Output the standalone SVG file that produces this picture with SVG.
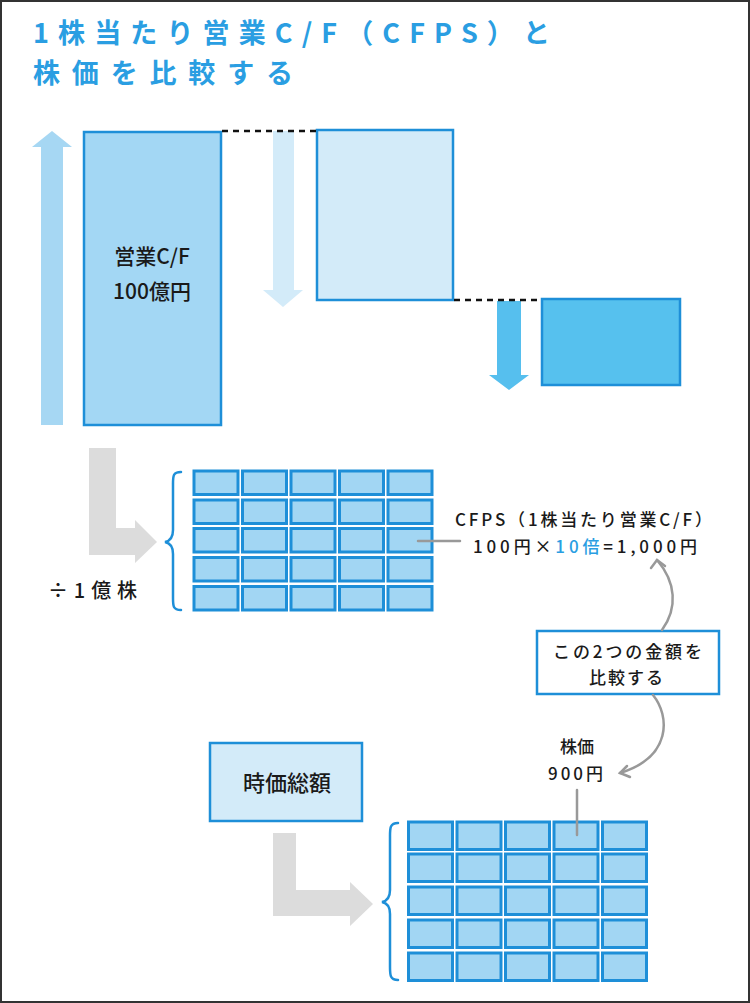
<svg xmlns="http://www.w3.org/2000/svg" width="750" height="1003" viewBox="0 0 750 1003">
<defs>
<style>
text{font-family:"Noto Sans CJK JP","Noto Sans",sans-serif;fill:#1a1a1a;font-weight:500;}
.title{fill:#2a9ee2;font-size:27px;font-weight:bold;}
.lbl{font-size:17px;}
.box{stroke:#1e8fd8;stroke-width:2.5;}
.cell{fill:#a2d6f3;stroke:#1e8fd8;stroke-width:3;}
.brace{fill:none;stroke:#1e8fd8;stroke-width:2.5;stroke-linecap:round;}
.dash{stroke:#111;stroke-width:2.5;stroke-dasharray:6 5;}
.gline{stroke:#999;stroke-width:2.5;fill:none;stroke-linecap:round;}
.lshape{fill:#dcdcdc;}
</style>
</defs>
<rect x="0" y="0" width="750" height="1003" fill="#fff"/>
<rect x="1" y="1" width="748" height="1001" fill="none" stroke="#333" stroke-width="2"/>

<g id="title">
<text class="title" x="33" y="43" textLength="517" lengthAdjust="spacing">1株当たり営業C/F（CFPS）と</text>
<text class="title" x="33" y="83" textLength="260" lengthAdjust="spacing">株価を比較する</text>
</g>

<g id="arrows-vertical">
<polygon points="52,131 72,147 63,147 63,425 41,425 41,147 32,147" fill="#a6d7f3"/>
<polygon points="273,131 294,131 294,290 303,290 283,307 263,290 273,290" fill="#d3ebf9"/>
<polygon points="497,301 521,301 521,375 529,375 509,390 489,375 497,375" fill="#56bfee"/>
</g>

<g id="node-cf">
<rect class="box" x="84" y="132" width="137" height="293" fill="#a3d7f4"/>
<text x="152" y="264" font-size="21" text-anchor="middle">営業C/F</text>
<text x="152" y="299" font-size="21" text-anchor="middle">100億円</text>
</g>

<g id="node-mid">
<rect class="box" x="317" y="130" width="136" height="170" fill="#d3ebf9"/>
</g>

<g id="node-small">
<rect class="box" x="542" y="299" width="138" height="86" fill="#56c1ee"/>
</g>

<g id="grid-top">
<path class="brace" d="M181,472 C173,472 173,476 173,484 L173,530 C173,538 170,541 165,542 C170,543 173,546 173,554 L173,598 C173,606 173,610 181,610"/>
<g>
<rect class="cell" x="194" y="471" width="44" height="23.5"/><rect class="cell" x="242.5" y="471" width="44" height="23.5"/><rect class="cell" x="291" y="471" width="44" height="23.5"/><rect class="cell" x="339.5" y="471" width="44" height="23.5"/><rect class="cell" x="388" y="471" width="44" height="23.5"/>
<rect class="cell" x="194" y="500" width="44" height="23.5"/><rect class="cell" x="242.5" y="500" width="44" height="23.5"/><rect class="cell" x="291" y="500" width="44" height="23.5"/><rect class="cell" x="339.5" y="500" width="44" height="23.5"/><rect class="cell" x="388" y="500" width="44" height="23.5"/>
<rect class="cell" x="194" y="528.5" width="44" height="23.5"/><rect class="cell" x="242.5" y="528.5" width="44" height="23.5"/><rect class="cell" x="291" y="528.5" width="44" height="23.5"/><rect class="cell" x="339.5" y="528.5" width="44" height="23.5"/><rect class="cell" x="388" y="528.5" width="44" height="23.5"/>
<rect class="cell" x="194" y="557.5" width="44" height="23.5"/><rect class="cell" x="242.5" y="557.5" width="44" height="23.5"/><rect class="cell" x="291" y="557.5" width="44" height="23.5"/><rect class="cell" x="339.5" y="557.5" width="44" height="23.5"/><rect class="cell" x="388" y="557.5" width="44" height="23.5"/>
<rect class="cell" x="194" y="586.5" width="44" height="23.5"/><rect class="cell" x="242.5" y="586.5" width="44" height="23.5"/><rect class="cell" x="291" y="586.5" width="44" height="23.5"/><rect class="cell" x="339.5" y="586.5" width="44" height="23.5"/><rect class="cell" x="388" y="586.5" width="44" height="23.5"/>
</g>
</g>

<g id="label-divide">
<text x="48" y="598" font-size="20" textLength="89" lengthAdjust="spacing">÷1億株</text>
</g>

<g id="label-cfps">
<text class="lbl" x="455" y="526" textLength="257" lengthAdjust="spacing">CFPS（1株当たり営業C/F）</text>
<text class="lbl" x="473" y="553" textLength="224" lengthAdjust="spacing">100円×<tspan fill="#2a9ee2">10倍</tspan>=1,000円</text>
</g>

<g id="node-compare">
<rect class="box" x="537" y="631" width="182" height="63" fill="#fff"/>
<text class="lbl" x="553" y="658" textLength="149" lengthAdjust="spacing">この2つの金額を</text>
<text class="lbl" x="589" y="684" textLength="74" lengthAdjust="spacing">比較する</text>
</g>

<g id="label-price">
<text class="lbl" x="577" y="753" text-anchor="middle">株価</text>
<text class="lbl" x="548" y="780" textLength="55" lengthAdjust="spacing">900円</text>
</g>

<g id="node-marketcap">
<rect class="box" x="210" y="743" width="152" height="78" fill="#d3ebf9"/>
<text x="287" y="791" font-size="22" font-weight="bold" text-anchor="middle">時価総額</text>
</g>

<g id="grid-bottom">
<path class="brace" d="M398,823 C390,823 390,828 390,836 L390,890 C390,898 387,901 382,902 C387,903 390,906 390,914 L390,967 C390,975 390,980 398,980"/>
<g>
<rect class="cell" x="408.5" y="822" width="44" height="27.5"/><rect class="cell" x="457" y="822" width="44" height="27.5"/><rect class="cell" x="505.5" y="822" width="44" height="27.5"/><rect class="cell" x="554" y="822" width="44" height="27.5"/><rect class="cell" x="602.5" y="822" width="44" height="27.5"/>
<rect class="cell" x="408.5" y="854" width="44" height="27.5"/><rect class="cell" x="457" y="854" width="44" height="27.5"/><rect class="cell" x="505.5" y="854" width="44" height="27.5"/><rect class="cell" x="554" y="854" width="44" height="27.5"/><rect class="cell" x="602.5" y="854" width="44" height="27.5"/>
<rect class="cell" x="408.5" y="887" width="44" height="27.5"/><rect class="cell" x="457" y="887" width="44" height="27.5"/><rect class="cell" x="505.5" y="887" width="44" height="27.5"/><rect class="cell" x="554" y="887" width="44" height="27.5"/><rect class="cell" x="602.5" y="887" width="44" height="27.5"/>
<rect class="cell" x="408.5" y="920" width="44" height="27.5"/><rect class="cell" x="457" y="920" width="44" height="27.5"/><rect class="cell" x="505.5" y="920" width="44" height="27.5"/><rect class="cell" x="554" y="920" width="44" height="27.5"/><rect class="cell" x="602.5" y="920" width="44" height="27.5"/>
<rect class="cell" x="408.5" y="953" width="44" height="27.5"/><rect class="cell" x="457" y="953" width="44" height="27.5"/><rect class="cell" x="505.5" y="953" width="44" height="27.5"/><rect class="cell" x="554" y="953" width="44" height="27.5"/><rect class="cell" x="602.5" y="953" width="44" height="27.5"/>
</g>
</g>

<g id="connectors">
<line class="dash" x1="222" y1="131" x2="317" y2="131"/>
<line class="dash" x1="454" y1="300" x2="542" y2="300"/>
<polygon class="lshape" points="89,448 116,448 116,528 135,528 135,520 157,542 135,563 135,555 89,555"/>
<polygon class="lshape" points="273,833 296,833 296,890 350,890 350,882 373,904 350,926 350,916 273,916"/>
<line class="gline" x1="418" y1="541" x2="460" y2="541"/>
<line class="gline" x1="577" y1="790" x2="577" y2="835"/>
<path class="gline" d="M662,630 C678,608 676,582 657,560"/>
<path class="gline" d="M651,568 L657,560 L665,566"/>
<path class="gline" d="M653,695 C670,716 672,757 620,773"/>
<path class="gline" d="M627,766 L620,773 L630,777"/>
</g>
</svg>
